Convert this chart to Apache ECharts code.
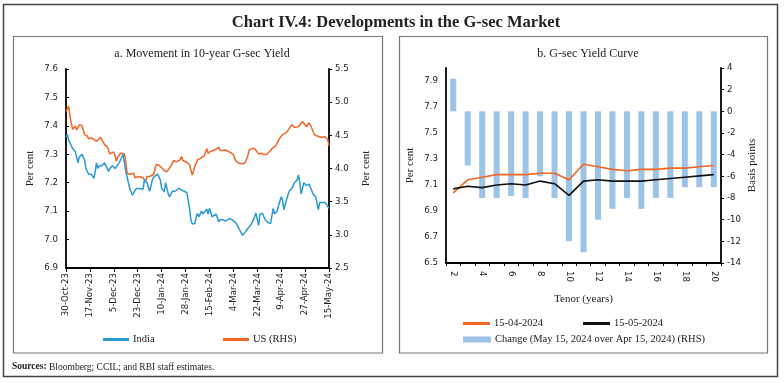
<!DOCTYPE html>
<html><head><meta charset="utf-8">
<script src="https://cdn.jsdelivr.net/npm/echarts@6/dist/echarts.min.js"></script>
<style>html,body{margin:0;padding:0;background:#fff}#c{width:784px;height:383px}</style>
</head><body><div id="c"></div>
<script>
// ---------- Panel a: 10-year G-sec yield (daily) ----------
const dateTickLabels = ['30-Oct-23','17-Nov-23','5-Dec-23','23-Dec-23','10-Jan-24','28-Jan-24','15-Feb-24','4-Mar-24','22-Mar-24','9-Apr-24','27-Apr-24','15-May-24'];
// observation days, counted in days since 30-Oct-2023
const indiaDay = [0,1,2,3,4,5,7,8,9,10,12,13,14,15,17,18,19,21,22,23,24,25,27,29,30,32,33,35,37,38,40,41,43,44,45,46,47,48,50,51,52,53,55,56,58,59,60,61,63,65,66,67,69,70,71,72,74,75,77,78,80,82,85,87,89,91,92,93,94,95,96,97,98,99,100,102,103,104,106,107,108,110,111,113,115,116,118,120,121,123,125,126,128,130,131,133,134,135,137,139,140,142,143,144,145,146,148,149,150,152,154,155,156,157,159,160,162,163,164,166,168,170,172,174,175,176,177,179,181,183,184,186,188,189,190,191,193,195,196,198];
const indiaYield = [7.36,7.37,7.35,7.34,7.33,7.32,7.31,7.29,7.27,7.29,7.30,7.29,7.28,7.25,7.23,7.235,7.23,7.215,7.24,7.27,7.25,7.26,7.26,7.27,7.275,7.24,7.25,7.26,7.25,7.25,7.27,7.28,7.30,7.27,7.24,7.22,7.20,7.18,7.156,7.165,7.17,7.18,7.18,7.185,7.177,7.21,7.205,7.20,7.17,7.21,7.22,7.227,7.23,7.233,7.21,7.18,7.168,7.20,7.16,7.15,7.17,7.17,7.18,7.175,7.17,7.165,7.16,7.11,7.07,7.056,7.055,7.056,7.08,7.092,7.08,7.10,7.09,7.09,7.107,7.09,7.11,7.08,7.085,7.09,7.062,7.07,7.07,7.065,7.06,7.074,7.07,7.07,7.058,7.04,7.033,7.015,7.02,7.027,7.04,7.05,7.056,7.08,7.094,7.07,7.05,7.09,7.092,7.08,7.07,7.06,7.056,7.06,7.11,7.09,7.10,7.12,7.15,7.14,7.105,7.14,7.17,7.18,7.20,7.21,7.227,7.20,7.16,7.20,7.19,7.195,7.19,7.16,7.15,7.15,7.105,7.13,7.13,7.13,7.125,7.11];
const usDay = [0,1,2,3,5,6,7,8,9,10,12,13,14,15,16,17,19,21,22,23,24,26,27,29,30,31,32,33,34,36,37,38,39,41,42,44,45,46,48,49,51,52,53,55,56,58,59,60,61,63,64,66,67,68,69,70,72,73,74,75,76,77,79,81,82,83,84,86,87,88,89,91,92,93,94,95,96,97,98,99,100,101,102,104,105,106,107,109,110,112,113,115,116,118,120,122,124,126,127,128,130,131,133,135,136,137,138,140,141,142,143,145,147,149,150,151,152,154,156,157,158,160,161,163,164,166,168,169,170,172,173,175,176,178,179,181,183,184,185,187,189,190,192,193,195,196,197,198];
const usYield = [4.86,4.90,4.94,4.78,4.59,4.62,4.64,4.58,4.62,4.66,4.65,4.58,4.51,4.53,4.49,4.45,4.46,4.44,4.43,4.41,4.42,4.47,4.43,4.36,4.38,4.33,4.28,4.22,4.24,4.25,4.19,4.11,4.17,4.23,4.24,4.22,4.10,3.93,3.91,3.92,3.93,3.86,3.89,3.88,3.87,3.86,3.83,3.80,3.88,3.88,3.89,3.91,4.00,4.06,4.04,4.05,4.01,4.03,3.97,3.96,3.95,3.95,4.04,4.12,4.10,4.10,4.12,4.13,4.18,4.12,4.10,4.09,4.08,4.06,3.98,3.90,3.96,4.04,4.08,4.13,4.10,4.15,4.18,4.19,4.20,4.30,4.23,4.26,4.27,4.28,4.27,4.32,4.27,4.27,4.28,4.26,4.24,4.21,4.15,4.11,4.08,4.07,4.07,4.09,4.11,4.20,4.28,4.30,4.32,4.30,4.28,4.22,4.23,4.21,4.19,4.21,4.23,4.27,4.32,4.30,4.34,4.43,4.42,4.51,4.50,4.54,4.60,4.58,4.66,4.62,4.64,4.63,4.64,4.71,4.68,4.63,4.69,4.66,4.61,4.51,4.49,4.48,4.47,4.48,4.48,4.49,4.44,4.34];

// ---------- Panel b: G-sec yield curve ----------
const tenors = ['2','3','4','5','6','7','8','9','10','11','12','13','14','15','16','17','18','19','20'];
const yieldApr15 = [7.04,7.14,7.16,7.18,7.18,7.18,7.19,7.19,7.14,7.26,7.24,7.22,7.21,7.22,7.22,7.23,7.23,7.24,7.25];
const yieldMay15 = [7.07,7.09,7.08,7.10,7.11,7.10,7.13,7.11,7.02,7.13,7.14,7.13,7.13,7.13,7.14,7.15,7.16,7.17,7.18];
const changeBp   = [3,-5,-8,-8,-7.8,-8,-6,-8,-12,-13,-10,-9,-8,-9,-8,-8,-7,-7,-7];

// calendar-day categories for panel a
const MONTHS = ['Jan','Feb','Mar','Apr','May','Jun','Jul','Aug','Sep','Oct','Nov','Dec'];
const dayCats = [];
for (let t = Date.UTC(2023,9,30); t <= Date.UTC(2024,4,15); t += 86400000) {
  const d = new Date(t);
  dayCats.push(d.getUTCDate() + '-' + MONTHS[d.getUTCMonth()] + '-' + String(d.getUTCFullYear()).slice(2));
}
function toDaily(days, vals) {
  const out = dayCats.map(() => null);
  days.forEach((d, i) => { out[d] = vals[i]; });
  return out;
}

const SANS = 'DejaVu Sans';
const SERIF = 'Liberation Serif';
const ORANGE = '#F26522', BLUE = '#2A9AD4', BARBLUE = '#9DC3E6';
const tickLbl = { fontFamily: SANS, fontSize: 8.6, color: '#222' };
const nameStyle = { fontFamily: SERIF, fontSize: 11, color: '#222' };
const axisBlack = { show: true, onZero: false, lineStyle: { color: '#000', width: 1.8 } };
const isTick = (i, v) => dateTickLabels.includes(v);
const legendText = { fontFamily: SERIF, fontSize: 10.5, color: '#222', padding: [0,0,0,-1] };

const chart = echarts.init(document.getElementById('c'), null, { renderer: 'canvas' });
chart.setOption({
  animation: false,
  backgroundColor: '#fff',
  title: [
    { text: 'Chart IV.4: Developments in the G-sec Market', left: 391, top: 9, textAlign: 'center',
      textStyle: { fontFamily: SERIF, fontSize: 16.5, fontWeight: 'bold', color: '#222' } },
    { text: 'a. Movement in 10-year G-sec Yield', left: 197, top: 43, textAlign: 'center',
      textStyle: { fontFamily: SERIF, fontSize: 12, fontWeight: 'normal', color: '#222' } },
    { text: 'b. G-sec Yield Curve', left: 583, top: 43, textAlign: 'center',
      textStyle: { fontFamily: SERIF, fontSize: 12, fontWeight: 'normal', color: '#222' } }
  ],
  graphic: [
    { type: 'rect', shape: { x: 3.5, y: 4.5, width: 774, height: 372 }, style: { fill: 'none', stroke: '#444', lineWidth: 1.5 }, silent: true },
    { type: 'rect', shape: { x: 13.5, y: 36.5, width: 369, height: 316.5 }, style: { fill: 'none', stroke: '#777', lineWidth: 1.2 }, silent: true },
    { type: 'rect', shape: { x: 399.5, y: 36.5, width: 368, height: 316.5 }, style: { fill: 'none', stroke: '#777', lineWidth: 1.2 }, silent: true },
    { type: 'text', left: 12, top: 362, style: { text: '{b|Sources:} Bloomberg; CCIL; and RBI staff estimates.',
      rich: { b: { fontFamily: SERIF, fontSize: 9.5, fontWeight: 'bold', fill: '#222' } },
      fontFamily: SERIF, fontSize: 9.5, fill: '#222' } }
  ],
  legend: [
    { data: ['India'], left: 103, top: 334, padding: 0, icon: 'rect', itemWidth: 26, itemHeight: 3, itemGap: 0, textStyle: legendText },
    { data: ['US (RHS)'], left: 223, top: 334, padding: 0, icon: 'rect', itemWidth: 26, itemHeight: 3, itemGap: 0, textStyle: legendText },
    { data: ['15-04-2024'], left: 463, top: 318, padding: 0, icon: 'rect', itemWidth: 27, itemHeight: 3, itemGap: 0, textStyle: legendText },
    { data: ['15-05-2024'], left: 583, top: 318, padding: 0, icon: 'rect', itemWidth: 27, itemHeight: 3, itemGap: 0, textStyle: legendText },
    { data: ['Change (May 15, 2024 over Apr 15, 2024) (RHS)'], left: 463, top: 334, padding: 0, icon: 'rect', itemWidth: 28, itemHeight: 6, itemGap: 0, textStyle: legendText }
  ],
  grid: [
    { left: 66, right: 455, top: 69, bottom: 115 },
    { left: 446, right: 63, top: 68, bottom: 120 }
  ],
  xAxis: [
    { type: 'category', gridIndex: 0, data: dayCats, boundaryGap: false,
      axisLine: axisBlack,
      axisTick: { show: true, interval: isTick, length: 4, lineStyle: { color: '#000' } },
      axisLabel: { interval: isTick, rotate: 90, margin: 5, ...tickLbl },
      splitLine: { show: false } },
    { type: 'category', gridIndex: 1, data: tenors, boundaryGap: true,
      name: 'Tenor (years)', nameLocation: 'middle', nameGap: 31, nameTextStyle: nameStyle,
      axisLine: axisBlack,
      axisTick: { show: true, interval: 0, length: 3, lineStyle: { color: '#000' } },
      axisLabel: { interval: 1, rotate: -90, margin: 8, ...tickLbl },
      splitLine: { show: false } }
  ],
  yAxis: [
    { type: 'value', gridIndex: 0, min: 6.9, max: 7.6, interval: 0.1, position: 'left',
      name: 'Per cent', nameLocation: 'middle', nameRotate: 90, nameGap: 30, nameTextStyle: nameStyle,
      axisLine: axisBlack, axisTick: { show: true, inside: true, length: 3, lineStyle: { color: '#000' } },
      axisLabel: { margin: 8, formatter: v => v.toFixed(1), ...tickLbl }, splitLine: { show: false } },
    { type: 'value', gridIndex: 0, min: 2.5, max: 5.5, interval: 0.5, position: 'right',
      name: 'Per cent', nameLocation: 'middle', nameRotate: 90, nameGap: 32, nameTextStyle: nameStyle,
      axisLine: axisBlack, axisTick: { show: true, length: 3, lineStyle: { color: '#000' } },
      axisLabel: { margin: 6, formatter: v => v.toFixed(1), ...tickLbl }, splitLine: { show: false } },
    { type: 'value', gridIndex: 1, min: 6.5, max: 8.0, interval: 0.2, position: 'left',
      name: 'Per cent', nameLocation: 'middle', nameRotate: 90, nameGap: 30, nameTextStyle: nameStyle,
      axisLine: axisBlack, axisTick: { show: false },
      axisLabel: { margin: 8, showMaxLabel: false, formatter: v => v.toFixed(1), ...tickLbl }, splitLine: { show: false } },
    { type: 'value', gridIndex: 1, min: -14, max: 4, interval: 2, position: 'right',
      name: 'Basis points', nameLocation: 'middle', nameRotate: 90, nameGap: 26, nameTextStyle: nameStyle,
      axisLine: axisBlack, axisTick: { show: true, length: 3, lineStyle: { color: '#000' } },
      axisLabel: { margin: 6, ...tickLbl }, splitLine: { show: false } }
  ],
  series: [
    { name: 'US (RHS)', type: 'line', xAxisIndex: 0, yAxisIndex: 1, data: toDaily(usDay, usYield), connectNulls: true,
      showSymbol: false, symbol: 'none', lineStyle: { color: ORANGE, width: 1.5 }, itemStyle: { color: ORANGE } },
    { name: 'India', type: 'line', xAxisIndex: 0, yAxisIndex: 0, data: toDaily(indiaDay, indiaYield), connectNulls: true,
      showSymbol: false, symbol: 'none', lineStyle: { color: BLUE, width: 1.5 }, itemStyle: { color: BLUE } },
    { name: 'Change (May 15, 2024 over Apr 15, 2024) (RHS)', type: 'bar', xAxisIndex: 1, yAxisIndex: 3, data: changeBp,
      barWidth: 6, itemStyle: { color: BARBLUE } },
    { name: '15-04-2024', type: 'line', xAxisIndex: 1, yAxisIndex: 2, data: yieldApr15,
      showSymbol: false, symbol: 'none', lineStyle: { color: ORANGE, width: 1.6 }, itemStyle: { color: ORANGE } },
    { name: '15-05-2024', type: 'line', xAxisIndex: 1, yAxisIndex: 2, data: yieldMay15,
      showSymbol: false, symbol: 'none', lineStyle: { color: '#111', width: 1.6 }, itemStyle: { color: '#111' } }
  ]
});
</script></body></html>
